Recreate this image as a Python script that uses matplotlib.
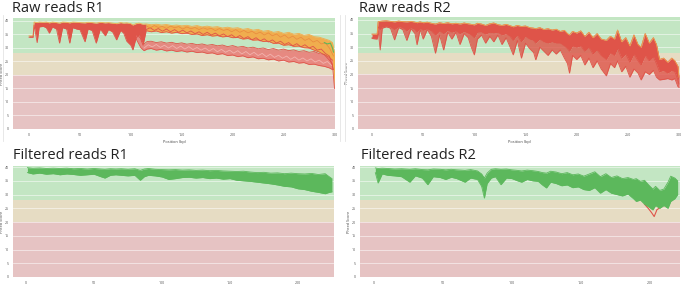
import numpy as np
import matplotlib
matplotlib.use("Agg")
from matplotlib import pyplot as plt

plt.rcParams['font.family'] = ['Open Sans', 'DejaVu Sans']

# band / line colours (MultiQC FastQC style)
GREEN_BAND = '#c3e6c3'
ORANGE_BAND = '#e6dcc3'
RED_BAND = '#e6c3c3'
PASS = '#5cb85c'
WARN = '#f0ad4e'
FAIL = '#df5449'

# ---- Raw reads R1: main bundle (top / bottom envelope) ----
raw1_pos = [0, 4, 5, 8, 10, 14, 17, 20, 23, 27, 30, 33, 37, 40, 43, 47, 50, 55, 58, 62,
            66, 70, 75, 78, 82, 86, 90, 93, 96, 100, 102, 105, 108, 112,
            115, 120, 125, 130, 135, 140, 145, 150, 155, 160, 165, 170, 175, 180, 185, 190,
            195, 200, 205, 210, 215, 220, 225, 230, 235, 240, 245, 250, 255, 260, 265, 270,
            275, 280, 285, 290, 295, 298, 300]
raw1_top = [34.5, 34.5, 39.6, 39.4, 39.6, 39.5, 39.6, 39.3, 39.6, 39.4, 39.2, 39.6, 39.5, 39.3, 39.6, 39.5, 39.4, 39.3, 39.5, 39.4,
            39.2, 39.5, 39.3, 39.4, 39.2, 39.0, 39.4, 39.2, 39.3, 39.0, 38.5, 39.0, 39.2, 38.8,
            38.9, 38.6, 38.8, 38.5, 38.7, 38.3, 38.5, 38.2, 38.4, 38.0, 38.3, 37.8, 38.1, 37.7, 37.9, 37.4,
            37.7, 37.3, 37.5, 36.9, 37.2, 36.6, 36.9, 36.2, 36.5, 35.8, 36.1, 35.4, 35.8, 35.1, 35.4, 34.7,
            35.0, 34.2, 34.0, 33.4, 32.8, 32.0, 28.0]
raw1_low = [34.0, 34.0, 38.5, 32.0, 37.8, 38.0, 37.5, 35.5, 37.8, 37.0, 31.8, 37.5, 37.0, 31.8, 37.5, 37.0, 36.8, 32.3, 37.0, 36.5,
            31.8, 37.0, 34.5, 36.8, 36.0, 33.0, 36.5, 35.5, 32.5, 31.0, 29.3, 33.5, 35.0, 31.0,
            36.4, 36.0, 36.3, 35.7, 36.0, 35.5, 35.8, 35.3, 35.5, 35.0, 35.2, 34.6, 34.9, 34.4, 34.6, 34.1,
            34.3, 33.8, 33.9, 33.3, 33.5, 32.9, 33.0, 32.4, 32.5, 31.7, 31.8, 31.0, 31.2, 30.6, 30.7, 30.1,
            30.0, 29.2, 28.5, 27.5, 25.5, 24.0, 15.0]
# single samples inside the upper bundle (every 4 bp from 115)
raw1_strand_pos = list(range(115, 300, 4))
raw1_orange = [38.2, 37.4, 38.3, 37.6, 38.0, 37.2, 38.1, 37.5, 37.9, 37.0, 37.8, 37.1, 37.6, 36.8, 37.5,
               36.9, 37.3, 36.4, 37.2, 36.5, 36.9, 36.0, 36.8, 35.8, 36.5, 35.6, 36.2, 35.2, 35.9, 34.8,
               35.6, 34.5, 35.2, 34.0, 34.8, 33.6, 34.4, 33.2, 34.0, 32.8, 33.5, 32.2, 32.8, 31.5, 31.8,
               30.0, 27.0]
raw1_red = [36.8, 37.5, 36.5, 37.2, 36.2, 37.0, 36.0, 36.8, 35.8, 36.6, 35.6, 36.3, 35.3, 36.0, 35.0,
            35.8, 34.8, 35.5, 34.5, 35.2, 34.2, 34.9, 33.8, 34.6, 33.5, 34.2, 33.0, 33.8, 32.6, 33.4,
            32.2, 33.0, 31.8, 32.5, 31.3, 32.0, 30.8, 31.6, 30.4, 31.2, 30.0, 30.6, 29.2, 29.6, 28.0,
            27.0, 22.0]

# ---- Raw reads R1: lower group of samples ----
raw1b_pos = [105, 110, 113, 116, 120, 125, 130, 135, 140, 145, 150, 155, 160, 165, 170, 175, 180, 185,
             190, 195, 200, 205, 210, 215, 220, 225, 230, 235, 240, 245, 250, 255, 260, 265, 270, 275,
             280, 285, 290, 295, 298]
raw1b_top = [35.0, 33.5, 31.5, 32.4, 32.5, 32.0, 32.3, 31.8, 32.1, 31.6, 31.9, 31.4, 31.7, 31.2, 31.5, 31.0, 31.3, 30.8,
             31.1, 30.5, 30.9, 30.3, 30.6, 30.0, 30.3, 29.7, 30.0, 29.4, 29.8, 29.2, 29.6, 29.0, 29.3, 28.7, 29.0, 28.4,
             28.7, 27.9, 27.6, 26.5, 25.5]
raw1b_low = [33.5, 30.0, 29.0, 29.6, 29.8, 29.2, 29.5, 28.9, 29.2, 28.7, 29.0, 28.5, 28.8, 28.3, 28.5, 28.0, 28.2, 27.6,
             27.9, 27.2, 27.4, 26.8, 27.1, 26.4, 26.7, 26.0, 26.2, 25.6, 25.9, 25.2, 25.5, 24.8, 25.0, 24.4, 24.6, 23.9,
             24.0, 23.5, 23.2, 22.6, 22.0]
raw1b_strand_pos = list(range(113, 298, 4))
raw1b_mid = [30.0, 31.2, 30.4, 31.3, 30.2, 31.0, 30.0, 30.9, 29.8, 30.7, 29.6, 30.5, 29.4, 30.2, 29.2,
             30.0, 28.9, 29.8, 28.6, 29.5, 28.4, 29.2, 28.1, 29.0, 27.8, 28.7, 27.5, 28.4, 27.2, 28.0,
             26.8, 27.7, 26.5, 27.3, 26.2, 27.0, 25.8, 26.7, 25.5, 26.3, 25.2, 26.0, 24.8, 25.5, 24.3,
             25.0, 23.5]
raw1_green_pos = [290, 293, 296, 298, 299]
raw1_green_val = [32.0, 31.5, 31.8, 30.0, 28.5]

# ---- Raw reads R2 ----
raw2_pos = [0, 5, 6, 8, 10, 14, 18, 22, 26, 30, 34, 38, 42, 44, 47, 50, 54, 58, 62, 66,
            70, 74, 78, 82, 86, 90, 94, 97, 100, 103, 107, 111, 115, 119, 123, 127, 131, 135, 138, 142,
            146, 150, 154, 158, 160, 164, 168, 172, 176, 180, 184, 188, 191, 193, 196, 200, 204, 208, 212, 216,
            220, 224, 229, 233, 237, 240, 244, 248, 252, 256, 260, 263, 267, 271, 275, 278, 281, 285, 289, 293,
            296, 299, 300]
raw2_top = [34.8, 34.8, 39.4, 39.5, 39.6, 39.7, 39.5, 39.3, 39.6, 39.4, 39.3, 39.5, 39.2, 39.0, 39.3, 39.0, 39.2, 38.8, 38.5, 39.0,
            38.7, 39.0, 38.6, 38.8, 38.5, 38.9, 38.6, 38.4, 38.2, 38.8, 38.5, 38.0, 38.6, 38.9, 38.3, 38.0, 38.4, 37.9, 37.5, 38.0,
            37.6, 37.8, 37.2, 37.0, 36.8, 37.2, 36.5, 36.8, 36.3, 36.6, 35.8, 36.2, 35.0, 34.5, 35.8, 35.2, 36.0, 34.0, 35.5, 33.5,
            35.0, 33.0, 32.5, 34.0, 33.0, 36.3, 32.0, 33.5, 30.5, 34.5, 31.0, 30.0, 35.0, 31.5, 33.5, 31.0, 25.5, 26.0, 24.5, 26.0,
            25.0, 23.0, 19.0]
# lower edge of the dense part of the bundle
raw2_core = [33.5, 33.3, 37.5, 36.5, 37.5, 37.8, 37.5, 36.5, 37.6, 37.2, 36.0, 37.2, 36.5, 35.5, 37.0, 36.2, 36.8, 36.0, 34.5, 36.0,
             35.0, 36.2, 35.5, 36.0, 35.0, 35.8, 35.2, 34.5, 33.5, 35.5, 35.6, 34.8, 35.5, 35.2, 35.5, 34.5, 35.0, 34.0, 32.5, 34.5,
             32.0, 34.0, 33.0, 32.5, 31.5, 33.0, 32.0, 31.5, 32.0, 31.5, 31.5, 30.5, 29.5, 28.5, 30.5, 30.0, 30.5, 28.5, 30.0, 27.5,
             29.0, 27.0, 25.5, 28.0, 27.0, 29.5, 26.0, 27.5, 24.5, 27.5, 25.0, 23.5, 27.0, 25.0, 26.5, 24.0, 21.0, 21.5, 20.5, 21.5,
             21.0, 18.0, 16.5]
raw2_low = [33.2, 33.0, 36.0, 29.0, 37.0, 37.5, 37.0, 32.7, 37.2, 36.5, 32.5, 36.8, 35.0, 30.9, 36.5, 33.0, 36.5, 34.0, 27.8, 34.5,
            29.0, 35.5, 33.0, 35.5, 31.0, 35.0, 33.5, 30.0, 27.2, 33.0, 34.5, 31.5, 34.0, 32.0, 34.5, 31.0, 33.5, 30.0, 27.2, 32.5,
            26.0, 31.5, 29.5, 28.0, 25.4, 30.0, 28.5, 27.0, 29.0, 27.5, 29.0, 26.0, 24.0, 20.5, 27.0, 25.5, 27.0, 23.5, 26.0, 22.5,
            25.0, 22.0, 19.5, 24.0, 22.5, 25.0, 21.0, 23.0, 19.0, 22.0, 20.5, 18.0, 21.0, 20.0, 21.5, 19.0, 18.0, 18.2, 18.5, 18.0,
            18.5, 15.5, 15.3]

# ---- Filtered reads R1 ----
filt1_pos = [1, 5, 10, 15, 20, 25, 30, 35, 40, 45, 50, 55, 58, 62, 66, 70, 75, 80, 84, 87,
             90, 95, 100, 105, 110, 115, 120, 125, 130, 135, 140, 145, 150, 155, 160, 165, 170, 175, 180, 185,
             190, 195, 200, 205, 210, 215, 220, 223, 225]
filt1_top = [39.8, 39.6, 39.7, 39.5, 39.6, 39.5, 39.6, 39.4, 39.5, 39.3, 39.5, 39.3, 39.2, 39.4, 39.3, 39.4, 39.2, 39.4, 38.8, 39.3,
             39.5, 39.2, 39.1, 39.0, 39.1, 38.9, 39.0, 38.8, 38.9, 38.7, 38.8, 38.6, 38.5, 38.4, 38.5, 38.2, 38.0, 38.1, 37.8, 37.9,
             37.6, 37.8, 37.6, 37.5, 37.7, 37.3, 37.6, 36.5, 35.8]
filt1_low = [38.0, 37.5, 37.8, 37.4, 37.6, 37.2, 37.5, 37.3, 37.0, 37.2, 37.4, 36.5, 36.0, 37.0, 37.2, 37.0, 36.8, 37.0, 35.2, 36.5,
             37.0, 36.8, 36.4, 35.5, 35.8, 36.2, 36.3, 36.0, 36.2, 35.8, 36.0, 35.6, 35.8, 35.2, 35.0, 34.8, 34.5, 34.2, 33.9, 33.5,
             33.0, 32.8, 32.1, 31.8, 31.2, 30.8, 30.3, 30.8, 31.0]

# ---- Filtered reads R2 ----
filt2_pos = [1, 3, 6, 10, 15, 20, 26, 30, 35, 39, 43, 48, 52, 56, 60, 66, 70, 75, 78, 80,
             82, 85, 88, 92, 96, 100, 104, 107, 111, 115, 119, 122, 125, 128, 132, 136, 140, 144, 148, 152,
             156, 160, 164, 168, 172, 176, 180, 184, 188, 190, 193, 196, 199, 202, 204, 207, 210, 213, 215, 218, 220]
filt2_top = [39.7, 39.5, 39.6, 39.5, 39.3, 39.4, 39.2, 39.4, 39.1, 39.0, 39.3, 39.2, 39.0, 39.2, 39.0, 38.8, 39.1, 38.6, 37.5, 36.0,
             37.8, 39.2, 39.4, 39.2, 39.3, 39.0, 38.8, 38.6, 38.9, 38.7, 38.4, 38.0, 37.8, 38.5, 38.2, 37.6, 38.0, 37.2, 37.5, 36.7,
             37.5, 38.3, 36.5, 37.6, 36.2, 36.8, 35.8, 36.2, 35.5, 35.8, 34.8, 35.2, 33.5, 32.0, 33.0, 31.5, 32.0, 34.5, 36.7, 36.0, 35.0]
filt2_low = [38.0, 34.2, 37.5, 37.0, 36.8, 36.5, 34.5, 36.8, 36.0, 33.6, 36.5, 36.2, 35.5, 36.3, 35.8, 34.5, 36.0, 35.5, 33.0, 28.7,
             34.0, 36.0, 36.5, 33.6, 36.0, 35.8, 35.0, 34.5, 35.5, 35.0, 34.8, 33.5, 32.4, 34.5, 34.0, 33.2, 33.5, 32.5, 32.8, 31.8,
             31.5, 32.5, 30.5, 31.8, 30.5, 30.0, 29.5, 30.2, 28.5, 27.5, 28.0, 26.5, 25.5, 24.4, 26.0, 25.0, 26.0, 25.0, 27.5, 28.5, 30.0]
filt2_red_pos = [196, 199, 201, 203, 205, 208]
filt2_red_val = [26.5, 24.8, 23.5, 22.0, 24.5, 25.5]

y_ticks = [0, 5, 10, 15, 20, 25, 30, 35, 40]


def setup_axes(ax, xlim, ylim, xticks):
    ax.axhspan(28, 100, color=GREEN_BAND, lw=0, zorder=0)
    ax.axhspan(20, 28, color=ORANGE_BAND, lw=0, zorder=0)
    ax.axhspan(0, 20, color=RED_BAND, lw=0, zorder=0)
    for y in y_ticks[1:]:
        ax.axhline(y, color='white', lw=0.6, alpha=0.6, zorder=1)
    ax.set_xlim(*xlim)
    ax.set_ylim(*ylim)
    ax.set_xticks(xticks)
    ax.set_yticks(y_ticks)
    ax.tick_params(length=0, labelsize=2.6, colors='#555555', pad=3)
    for s in ax.spines.values():
        s.set_visible(False)
    ax.set_ylabel('Phred Score', fontsize=2.8, color='#444444', labelpad=0.5)
    ax.set_xlabel('Position (bp)', fontsize=2.8, color='#444444', labelpad=2)


def bundle(ax, pos, top, low, color, edge, alpha=0.9):
    ax.fill_between(pos, low, top, color=color, lw=0, alpha=alpha, zorder=2)
    ax.plot(pos, top, color=edge, lw=0.6, zorder=3)
    ax.plot(pos, low, color=edge, lw=0.6, zorder=3)


fig = plt.figure(figsize=(6.85, 2.84), dpi=100)
W, H = 685.0, 284.0


def add_ax(x0, y0, x1, y1):
    return fig.add_axes([x0 / W, 1 - y1 / H, (x1 - x0) / W, (y1 - y0) / H])


# Raw reads R1
ax1 = add_ax(13, 18, 335, 129)
setup_axes(ax1, (-15.7, 300.5), (0, 41.1), [0, 50, 100, 150, 200, 250, 300])
p = np.array(raw1_pos)
t = np.array(raw1_top)
l = np.array(raw1_low)
ax1.fill_between(p, l, t, where=p <= 115, color=FAIL, lw=0, zorder=2)
ax1.fill_between(p, l, t, where=p >= 115, color=WARN, lw=0, zorder=2)
ax1.plot(p, t, color=WARN, lw=0.6, zorder=3)
ax1.plot(p, l, color=FAIL, lw=0.6, zorder=3)
ax1.plot(raw1_strand_pos, raw1_red, color=FAIL, lw=0.6, zorder=3)
ax1.plot(raw1_strand_pos, raw1_orange, color='#e8893f', lw=0.5, zorder=3)
bundle(ax1, raw1b_pos, raw1b_top, raw1b_low, '#e8807a', FAIL)
ax1.plot(raw1b_strand_pos, raw1b_mid, color='#f2b3ae', lw=0.6, zorder=3)
ax1.plot(raw1_green_pos, raw1_green_val, color=PASS, lw=0.8, zorder=4)

# Raw reads R2
ax2 = add_ax(358, 17, 680, 129)
setup_axes(ax2, (-13.7, 301), (0, 41.1), [0, 50, 100, 150, 200, 250, 300])
ax2.fill_between(raw2_pos, raw2_low, raw2_core, color=FAIL, lw=0, alpha=0.8, zorder=2)
ax2.plot(raw2_pos, raw2_low, color=FAIL, lw=0.6, zorder=3)
bundle(ax2, raw2_pos, raw2_top, raw2_core, FAIL, FAIL, alpha=1.0)
ax2.plot(raw2_pos, raw2_top, color=WARN, lw=0.5, zorder=4)

# Filtered reads R1
ax3 = add_ax(13, 166, 334, 277)
setup_axes(ax3, (-9.6, 226.5), (0, 40.4), [0, 50, 100, 150, 200])
bundle(ax3, filt1_pos, filt1_top, filt1_low, PASS, PASS, alpha=1.0)

# Filtered reads R2
ax4 = add_ax(360, 166, 680, 277)
setup_axes(ax4, (-10.1, 221.7), (0, 40.4), [0, 50, 100, 150, 200])
ax4.plot(filt2_red_pos, filt2_red_val, color=FAIL, lw=0.8, zorder=2)
bundle(ax4, filt2_pos, filt2_top, filt2_low, PASS, PASS, alpha=1.0)

# panel titles
title_kw = dict(fontsize=10.5, color='#222222', va='baseline', ha='left')
fig.text(12 / W, 1 - 11.7 / H, 'Raw reads R1', **title_kw)
fig.text(359 / W, 1 - 11.7 / H, 'Raw reads R2', **title_kw)
fig.text(13 / W, 1 - 159 / H, 'Filtered reads R1', **title_kw)
fig.text(361 / W, 1 - 159 / H, 'Filtered reads R2', **title_kw)

# faint frame lines of the exported plots
for x in (3, 340, 345):
    fig.add_artist(plt.Line2D([x / W, x / W], [1 - 141 / H, 1 - 15 / H], color='#e4e4e4', lw=0.6))

fig.savefig('out.png', dpi=100)
